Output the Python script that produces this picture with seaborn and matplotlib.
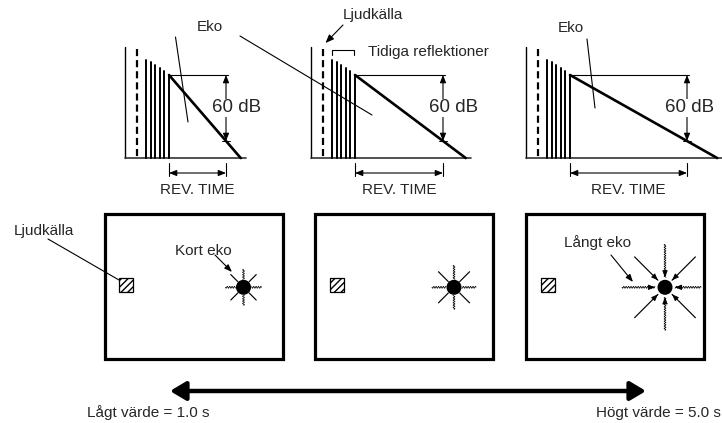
import numpy as np
import pandas as pd
import matplotlib.pyplot as plt
from matplotlib.patches import Rectangle, Circle
import seaborn as sns

# reverb settings shown, from short to long (diagram time units)
rev_time = [57, 88, 117]                       # time to fall 60 dB
refl_time = [21, 25.6, 30.2, 34.8, 39.4, 44]   # early reflections
refl_db = [14, 12, 9.5, 6.5, 3.5, 0]
direct_time = 11.5
direct_db = 23.6
floor_db = -75.5
ray_len = [(8, 18), (8, 22), (10, 43)]         # echo rays, inner / outer
range_labels = ['Lågt värde = 1.0 s', 'Högt värde = 5.0 s']

# layout, in pixels
W, H = 722, 423
axis_x = [125, 311, 526]
box_x = [104.5, 315, 526]
box_w, box_top, box_bot = 178, 214, 359
top_y, px_db = 75, 1.1
db_off = [14, 14, 22]     # where "60 dB" starts left of its arrow


def ydb(db):
    return top_y - db * px_db


def arrow(ax, p0, p1, style='-|>', lw=0.8, hl=0.4, hw=0.2, ms=10):
    ax.annotate('', xy=p1, xytext=p0,
                arrowprops=dict(arrowstyle=f'{style},head_length={hl},head_width={hw}',
                                lw=lw, color='black', shrinkA=0, shrinkB=0,
                                mutation_scale=ms))


def wavy(ax, x0, y0, x1, y1, amp=0.9, wl=2.4):
    L = np.hypot(x1 - x0, y1 - y0)
    s = np.linspace(0, L, int(L * 6) + 2)
    ux, uy = (x1 - x0) / L, (y1 - y0) / L
    off = amp * np.sin(2 * np.pi * s / wl)
    ax.plot(x0 + ux * s - uy * off, y0 + uy * s + ux * off, color='black', lw=0.55)


sns.set_theme(style='white')
plt.rcParams['font.family'] = ['Liberation Sans', 'DejaVu Sans']

fig = plt.figure(figsize=(W / 100, H / 100), dpi=100)
ax = fig.add_axes([0, 0, 1, 1])
ax.set_xlim(0, W)
ax.set_ylim(H, 0)
ax.axis('off')

# ---- decay diagrams ----
rows = []
for i, rt in enumerate(rev_time):
    x0 = axis_x[i]
    t_start = refl_time[-1]
    t_end = t_start + rt * (-floor_db) / 60
    rows.append({'panel': i, 'x': x0 + t_start, 'y': ydb(0)})
    rows.append({'panel': i, 'x': x0 + t_end, 'y': ydb(floor_db)})

    # axes of the little plot
    ax.plot([x0, x0], [47, ydb(floor_db)], color='black', lw=1)
    ax.plot([x0, x0 + t_end + 5], [ydb(floor_db)] * 2, color='#333333', lw=1.2)
    # direct sound
    ax.plot([x0 + direct_time] * 2, [ydb(direct_db), ydb(floor_db)], color='black',
            lw=1.6, linestyle=(0, (3.2, 1.8)))
    # early reflections
    for t, db in zip(refl_time, refl_db):
        ax.plot([x0 + t] * 2, [ydb(db), ydb(floor_db)], color='black', lw=1.4)
    # 0 dB reference and 60 dB span
    xr = x0 + t_start + rt
    ax.plot([x0 + t_start, xr + 2], [top_y, top_y], color='black', lw=0.8)
    arrow(ax, (xr, top_y), (xr, ydb(-60)), style='<|-|>', hl=0.45, hw=0.18)
    ax.plot([xr - 4, xr + 4], [ydb(-60)] * 2, color='black', lw=0.7)
    ax.text(xr - db_off[i], 108, '60 dB', fontsize=13.5, ha='left', va='center',
            bbox=dict(fc='white', ec='none', pad=0.5))
    # reverb time span
    for xx in (x0 + t_start, xr):
        ax.plot([xx, xx], [163, 176], color='black', lw=0.8)
    arrow(ax, (x0 + t_start, 173), (xr, 173), style='<|-|>', hl=0.45, hw=0.18)
    ax.text((x0 + t_start + xr) / 2, 190, 'REV. TIME', fontsize=11,
            ha='center', va='center')

decay = pd.DataFrame(rows)
sns.lineplot(data=decay, x='x', y='y', units='panel', estimator=None,
             color='black', lw=1.9, ax=ax, legend=False)
ax.axis('off')

# labels on the decay diagrams
ax.text(210, 27, 'Eko', fontsize=11, ha='center', va='center')
ax.plot([175.5, 188], [37, 122], color='black', lw=0.8)
ax.plot([240, 372], [36, 115], color='black', lw=0.8)
ax.text(571, 28, 'Eko', fontsize=11, ha='center', va='center')
ax.plot([587, 595], [39, 108], color='black', lw=0.8)
ax.text(373, 15, 'Ljudkälla', fontsize=11, ha='center', va='center')
arrow(ax, (343, 25), (325.5, 43), hl=0.5, hw=0.2)
ax.plot([331.7, 331.7, 354, 354], [55, 50, 50, 55], color='black', lw=0.8)
ax.text(368, 52, 'Tidiga reflektioner', fontsize=11, ha='left', va='center')

# ---- room boxes ----
for i, bx in enumerate(box_x):
    ax.add_patch(Rectangle((bx, box_top), box_w, box_bot - box_top, fill=False,
                           lw=2.3, ec='black'))
    ax.add_patch(Rectangle((bx + 14.5, 278), 14, 14, fill=False, lw=0.9,
                           ec='black', hatch='/////'))
    cx, cy = bx + 139, 287.3
    ax.add_patch(Circle((cx, cy), 6.8, color='black'))
    r0, r1 = ray_len[i]
    for k in range(8):
        a = np.deg2rad(45 * k)
        ux, uy = np.cos(a), np.sin(a)
        ro = r1
        if i == 2 and k == 0:
            ro = bx + box_w - 3 - cx
        p_out = (cx + ux * ro, cy + uy * ro)
        p_in = (cx + ux * r0, cy + uy * r0)
        if k % 2 == 0:
            wavy(ax, *p_out, *p_in)
        else:
            ax.plot([p_out[0], p_in[0]], [p_out[1], p_in[1]], color='black', lw=0.85)
        if i == 2:
            arrow(ax, (p_in[0] + ux * 6, p_in[1] + uy * 6), p_in, lw=0.6,
                  hl=0.4, hw=0.16)

ax.text(44, 231, 'Ljudkälla', fontsize=11, ha='center', va='center')
ax.plot([48, 119], [239, 280], color='black', lw=0.8)
ax.text(203, 251, 'Kort eko', fontsize=11, ha='center', va='center')
arrow(ax, (215, 255), (232, 272), hl=0.45, hw=0.17)
ax.text(598, 243, 'Långt eko', fontsize=11, ha='center', va='center')
arrow(ax, (611, 255), (633, 282), hl=0.45, hw=0.17)

# ---- range arrow ----
arrow(ax, (170, 391), (646, 391), style='<|-|>', lw=3.2, hl=0.47, hw=0.28, ms=20)
ax.text(87, 413, range_labels[0], fontsize=11, ha='left', va='center')
ax.text(721, 413, range_labels[1], fontsize=11, ha='right', va='center')

fig.savefig('out.png', dpi=100)
